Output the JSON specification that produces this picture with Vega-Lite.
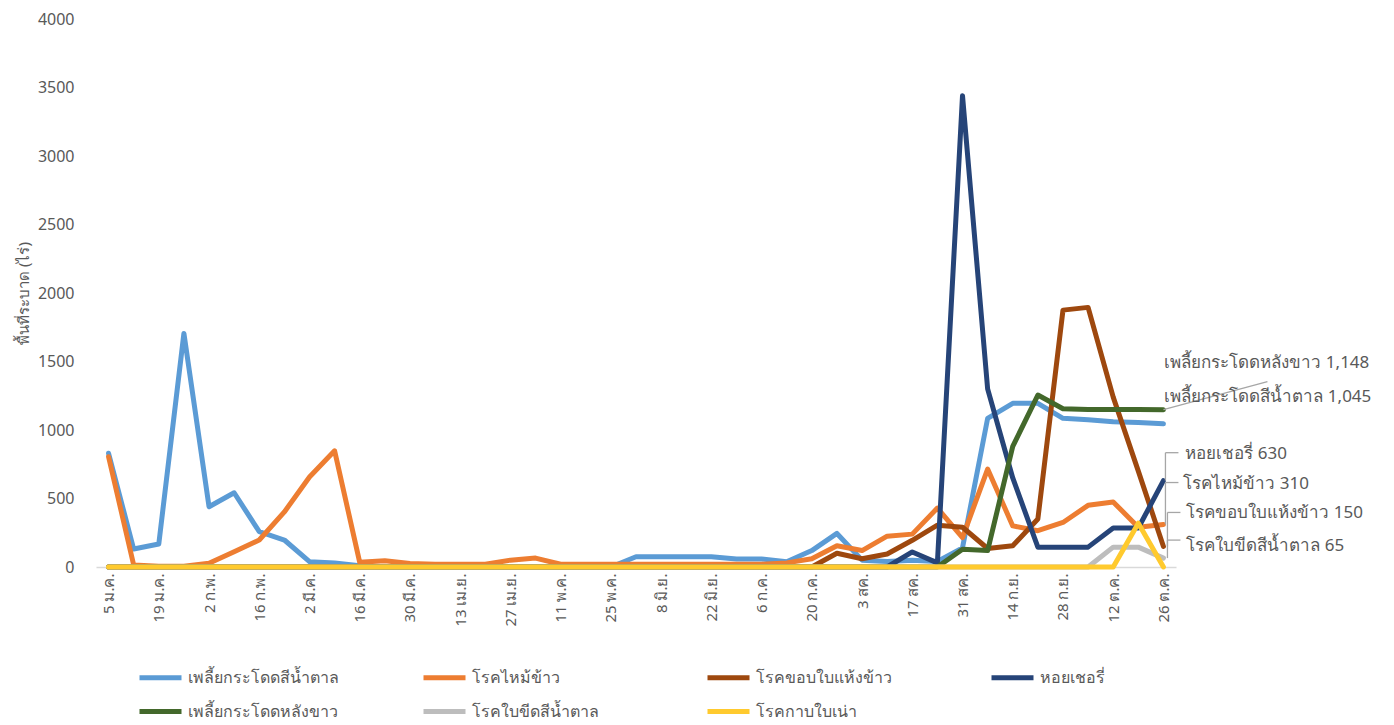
{
  "$schema": "https://vega.github.io/schema/vega-lite/v6.json",
  "width": 1080,
  "height": 548,
  "autosize": "none",
  "padding": {"left": 96, "top": 19, "right": 218, "bottom": 158},
  "background": "white",
  "config": {
    "view": {"stroke": null},
    "font": "Noto Sans",
    "axis": {"labelFont": "Noto Sans", "titleFont": "Noto Sans"},
    "legend": {"labelFont": "Noto Sans"}
  },
  "datasets": {
    "w": [
      {"d":"5 ม.ค.","เพลี้ยกระโดดสีน้ำตาล":830,"โรคไหม้ข้าว":805,"โรคขอบใบแห้งข้าว":0,"หอยเชอรี่":0,"เพลี้ยกระโดดหลังขาว":0,"โรคใบขีดสีน้ำตาล":0,"โรคกาบใบเน่า":0},
      {"d":"12 ม.ค.","เพลี้ยกระโดดสีน้ำตาล":131,"โรคไหม้ข้าว":15,"โรคขอบใบแห้งข้าว":0,"หอยเชอรี่":0,"เพลี้ยกระโดดหลังขาว":0,"โรคใบขีดสีน้ำตาล":0,"โรคกาบใบเน่า":0},
      {"d":"19 ม.ค.","เพลี้ยกระโดดสีน้ำตาล":168,"โรคไหม้ข้าว":5,"โรคขอบใบแห้งข้าว":0,"หอยเชอรี่":0,"เพลี้ยกระโดดหลังขาว":0,"โรคใบขีดสีน้ำตาล":0,"โรคกาบใบเน่า":0},
      {"d":"26 ม.ค.","เพลี้ยกระโดดสีน้ำตาล":1705,"โรคไหม้ข้าว":5,"โรคขอบใบแห้งข้าว":0,"หอยเชอรี่":0,"เพลี้ยกระโดดหลังขาว":0,"โรคใบขีดสีน้ำตาล":0,"โรคกาบใบเน่า":0},
      {"d":"2 ก.พ.","เพลี้ยกระโดดสีน้ำตาล":440,"โรคไหม้ข้าว":27,"โรคขอบใบแห้งข้าว":0,"หอยเชอรี่":0,"เพลี้ยกระโดดหลังขาว":0,"โรคใบขีดสีน้ำตาล":0,"โรคกาบใบเน่า":0},
      {"d":"9 ก.พ.","เพลี้ยกระโดดสีน้ำตาล":542,"โรคไหม้ข้าว":112,"โรคขอบใบแห้งข้าว":0,"หอยเชอรี่":0,"เพลี้ยกระโดดหลังขาว":0,"โรคใบขีดสีน้ำตาล":0,"โรคกาบใบเน่า":0},
      {"d":"16 ก.พ.","เพลี้ยกระโดดสีน้ำตาล":258,"โรคไหม้ข้าว":197,"โรคขอบใบแห้งข้าว":0,"หอยเชอรี่":0,"เพลี้ยกระโดดหลังขาว":0,"โรคใบขีดสีน้ำตาล":0,"โรคกาบใบเน่า":0},
      {"d":"23 ก.พ.","เพลี้ยกระโดดสีน้ำตาล":197,"โรคไหม้ข้าว":402,"โรคขอบใบแห้งข้าว":0,"หอยเชอรี่":0,"เพลี้ยกระโดดหลังขาว":0,"โรคใบขีดสีน้ำตาล":0,"โรคกาบใบเน่า":0},
      {"d":"2 มี.ค.","เพลี้ยกระโดดสีน้ำตาล":39,"โรคไหม้ข้าว":657,"โรคขอบใบแห้งข้าว":0,"หอยเชอรี่":0,"เพลี้ยกระโดดหลังขาว":0,"โรคใบขีดสีน้ำตาล":0,"โรคกาบใบเน่า":0},
      {"d":"9 มี.ค.","เพลี้ยกระโดดสีน้ำตาล":30,"โรคไหม้ข้าว":848,"โรคขอบใบแห้งข้าว":0,"หอยเชอรี่":0,"เพลี้ยกระโดดหลังขาว":0,"โรคใบขีดสีน้ำตาล":0,"โรคกาบใบเน่า":0},
      {"d":"16 มี.ค.","เพลี้ยกระโดดสีน้ำตาล":10,"โรคไหม้ข้าว":34,"โรคขอบใบแห้งข้าว":0,"หอยเชอรี่":0,"เพลี้ยกระโดดหลังขาว":0,"โรคใบขีดสีน้ำตาล":0,"โรคกาบใบเน่า":0},
      {"d":"23 มี.ค.","เพลี้ยกระโดดสีน้ำตาล":0,"โรคไหม้ข้าว":46,"โรคขอบใบแห้งข้าว":0,"หอยเชอรี่":0,"เพลี้ยกระโดดหลังขาว":0,"โรคใบขีดสีน้ำตาล":0,"โรคกาบใบเน่า":0},
      {"d":"30 มี.ค.","เพลี้ยกระโดดสีน้ำตาล":0,"โรคไหม้ข้าว":25,"โรคขอบใบแห้งข้าว":0,"หอยเชอรี่":0,"เพลี้ยกระโดดหลังขาว":0,"โรคใบขีดสีน้ำตาล":0,"โรคกาบใบเน่า":0},
      {"d":"6 เม.ย.","เพลี้ยกระโดดสีน้ำตาล":0,"โรคไหม้ข้าว":20,"โรคขอบใบแห้งข้าว":0,"หอยเชอรี่":0,"เพลี้ยกระโดดหลังขาว":0,"โรคใบขีดสีน้ำตาล":0,"โรคกาบใบเน่า":0},
      {"d":"13 เม.ย.","เพลี้ยกระโดดสีน้ำตาล":0,"โรคไหม้ข้าว":20,"โรคขอบใบแห้งข้าว":0,"หอยเชอรี่":0,"เพลี้ยกระโดดหลังขาว":0,"โรคใบขีดสีน้ำตาล":0,"โรคกาบใบเน่า":0},
      {"d":"20 เม.ย.","เพลี้ยกระโดดสีน้ำตาล":0,"โรคไหม้ข้าว":20,"โรคขอบใบแห้งข้าว":0,"หอยเชอรี่":0,"เพลี้ยกระโดดหลังขาว":0,"โรคใบขีดสีน้ำตาล":0,"โรคกาบใบเน่า":0},
      {"d":"27 เม.ย.","เพลี้ยกระโดดสีน้ำตาล":0,"โรคไหม้ข้าว":50,"โรคขอบใบแห้งข้าว":0,"หอยเชอรี่":0,"เพลี้ยกระโดดหลังขาว":0,"โรคใบขีดสีน้ำตาล":0,"โรคกาบใบเน่า":0},
      {"d":"4 พ.ค.","เพลี้ยกระโดดสีน้ำตาล":0,"โรคไหม้ข้าว":65,"โรคขอบใบแห้งข้าว":0,"หอยเชอรี่":0,"เพลี้ยกระโดดหลังขาว":0,"โรคใบขีดสีน้ำตาล":0,"โรคกาบใบเน่า":0},
      {"d":"11 พ.ค.","เพลี้ยกระโดดสีน้ำตาล":0,"โรคไหม้ข้าว":20,"โรคขอบใบแห้งข้าว":0,"หอยเชอรี่":0,"เพลี้ยกระโดดหลังขาว":0,"โรคใบขีดสีน้ำตาล":0,"โรคกาบใบเน่า":0},
      {"d":"18 พ.ค.","เพลี้ยกระโดดสีน้ำตาล":0,"โรคไหม้ข้าว":20,"โรคขอบใบแห้งข้าว":0,"หอยเชอรี่":0,"เพลี้ยกระโดดหลังขาว":0,"โรคใบขีดสีน้ำตาล":0,"โรคกาบใบเน่า":0},
      {"d":"25 พ.ค.","เพลี้ยกระโดดสีน้ำตาล":0,"โรคไหม้ข้าว":20,"โรคขอบใบแห้งข้าว":0,"หอยเชอรี่":0,"เพลี้ยกระโดดหลังขาว":0,"โรคใบขีดสีน้ำตาล":0,"โรคกาบใบเน่า":0},
      {"d":"1 มิ.ย.","เพลี้ยกระโดดสีน้ำตาล":75,"โรคไหม้ข้าว":20,"โรคขอบใบแห้งข้าว":0,"หอยเชอรี่":0,"เพลี้ยกระโดดหลังขาว":0,"โรคใบขีดสีน้ำตาล":0,"โรคกาบใบเน่า":0},
      {"d":"8 มิ.ย.","เพลี้ยกระโดดสีน้ำตาล":75,"โรคไหม้ข้าว":20,"โรคขอบใบแห้งข้าว":0,"หอยเชอรี่":0,"เพลี้ยกระโดดหลังขาว":0,"โรคใบขีดสีน้ำตาล":0,"โรคกาบใบเน่า":0},
      {"d":"15 มิ.ย.","เพลี้ยกระโดดสีน้ำตาล":75,"โรคไหม้ข้าว":20,"โรคขอบใบแห้งข้าว":0,"หอยเชอรี่":0,"เพลี้ยกระโดดหลังขาว":0,"โรคใบขีดสีน้ำตาล":0,"โรคกาบใบเน่า":0},
      {"d":"22 มิ.ย.","เพลี้ยกระโดดสีน้ำตาล":75,"โรคไหม้ข้าว":20,"โรคขอบใบแห้งข้าว":0,"หอยเชอรี่":0,"เพลี้ยกระโดดหลังขาว":0,"โรคใบขีดสีน้ำตาล":0,"โรคกาบใบเน่า":0},
      {"d":"29 มิ.ย.","เพลี้ยกระโดดสีน้ำตาล":58,"โรคไหม้ข้าว":20,"โรคขอบใบแห้งข้าว":0,"หอยเชอรี่":0,"เพลี้ยกระโดดหลังขาว":0,"โรคใบขีดสีน้ำตาล":0,"โรคกาบใบเน่า":0},
      {"d":"6 ก.ค.","เพลี้ยกระโดดสีน้ำตาล":58,"โรคไหม้ข้าว":20,"โรคขอบใบแห้งข้าว":0,"หอยเชอรี่":0,"เพลี้ยกระโดดหลังขาว":0,"โรคใบขีดสีน้ำตาล":0,"โรคกาบใบเน่า":0},
      {"d":"13 ก.ค.","เพลี้ยกระโดดสีน้ำตาล":38,"โรคไหม้ข้าว":30,"โรคขอบใบแห้งข้าว":0,"หอยเชอรี่":0,"เพลี้ยกระโดดหลังขาว":0,"โรคใบขีดสีน้ำตาล":0,"โรคกาบใบเน่า":0},
      {"d":"20 ก.ค.","เพลี้ยกระโดดสีน้ำตาล":120,"โรคไหม้ข้าว":60,"โรคขอบใบแห้งข้าว":0,"หอยเชอรี่":0,"เพลี้ยกระโดดหลังขาว":0,"โรคใบขีดสีน้ำตาล":0,"โรคกาบใบเน่า":0},
      {"d":"27 ก.ค.","เพลี้ยกระโดดสีน้ำตาล":245,"โรคไหม้ข้าว":155,"โรคขอบใบแห้งข้าว":100,"หอยเชอรี่":0,"เพลี้ยกระโดดหลังขาว":0,"โรคใบขีดสีน้ำตาล":0,"โรคกาบใบเน่า":0},
      {"d":"3 สค.","เพลี้ยกระโดดสีน้ำตาล":50,"โรคไหม้ข้าว":120,"โรคขอบใบแห้งข้าว":60,"หอยเชอรี่":0,"เพลี้ยกระโดดหลังขาว":0,"โรคใบขีดสีน้ำตาล":0,"โรคกาบใบเน่า":0},
      {"d":"10 สค.","เพลี้ยกระโดดสีน้ำตาล":40,"โรคไหม้ข้าว":225,"โรคขอบใบแห้งข้าว":95,"หอยเชอรี่":0,"เพลี้ยกระโดดหลังขาว":0,"โรคใบขีดสีน้ำตาล":0,"โรคกาบใบเน่า":0},
      {"d":"17 สค.","เพลี้ยกระโดดสีน้ำตาล":50,"โรคไหม้ข้าว":240,"โรคขอบใบแห้งข้าว":195,"หอยเชอรี่":110,"เพลี้ยกระโดดหลังขาว":0,"โรคใบขีดสีน้ำตาล":0,"โรคกาบใบเน่า":0},
      {"d":"24 สค.","เพลี้ยกระโดดสีน้ำตาล":40,"โรคไหม้ข้าว":430,"โรคขอบใบแห้งข้าว":305,"หอยเชอรี่":30,"เพลี้ยกระโดดหลังขาว":0,"โรคใบขีดสีน้ำตาล":0,"โรคกาบใบเน่า":0},
      {"d":"31 สค.","เพลี้ยกระโดดสีน้ำตาล":140,"โรคไหม้ข้าว":215,"โรคขอบใบแห้งข้าว":290,"หอยเชอรี่":3440,"เพลี้ยกระโดดหลังขาว":130,"โรคใบขีดสีน้ำตาล":0,"โรคกาบใบเน่า":0},
      {"d":"7 ก.ย.","เพลี้ยกระโดดสีน้ำตาล":1085,"โรคไหม้ข้าว":715,"โรคขอบใบแห้งข้าว":135,"หอยเชอรี่":1300,"เพลี้ยกระโดดหลังขาว":120,"โรคใบขีดสีน้ำตาล":0,"โรคกาบใบเน่า":0},
      {"d":"14 ก.ย.","เพลี้ยกระโดดสีน้ำตาล":1195,"โรคไหม้ข้าว":300,"โรคขอบใบแห้งข้าว":155,"หอยเชอรี่":650,"เพลี้ยกระโดดหลังขาว":880,"โรคใบขีดสีน้ำตาล":0,"โรคกาบใบเน่า":0},
      {"d":"21 ก.ย.","เพลี้ยกระโดดสีน้ำตาล":1195,"โรคไหม้ข้าว":265,"โรคขอบใบแห้งข้าว":350,"หอยเชอรี่":145,"เพลี้ยกระโดดหลังขาว":1255,"โรคใบขีดสีน้ำตาล":0,"โรคกาบใบเน่า":0},
      {"d":"28 ก.ย.","เพลี้ยกระโดดสีน้ำตาล":1085,"โรคไหม้ข้าว":325,"โรคขอบใบแห้งข้าว":1875,"หอยเชอรี่":145,"เพลี้ยกระโดดหลังขาว":1155,"โรคใบขีดสีน้ำตาล":0,"โรคกาบใบเน่า":0},
      {"d":"5 ต.ค.","เพลี้ยกระโดดสีน้ำตาล":1075,"โรคไหม้ข้าว":450,"โรคขอบใบแห้งข้าว":1895,"หอยเชอรี่":145,"เพลี้ยกระโดดหลังขาว":1150,"โรคใบขีดสีน้ำตาล":0,"โรคกาบใบเน่า":0},
      {"d":"12 ต.ค.","เพลี้ยกระโดดสีน้ำตาล":1060,"โรคไหม้ข้าว":475,"โรคขอบใบแห้งข้าว":1240,"หอยเชอรี่":285,"เพลี้ยกระโดดหลังขาว":1150,"โรคใบขีดสีน้ำตาล":145,"โรคกาบใบเน่า":0},
      {"d":"19 ต.ค.","เพลี้ยกระโดดสีน้ำตาล":1055,"โรคไหม้ข้าว":290,"โรคขอบใบแห้งข้าว":700,"หอยเชอรี่":285,"เพลี้ยกระโดดหลังขาว":1150,"โรคใบขีดสีน้ำตาล":145,"โรคกาบใบเน่า":320},
      {"d":"26 ต.ค.","เพลี้ยกระโดดสีน้ำตาล":1045,"โรคไหม้ข้าว":310,"โรคขอบใบแห้งข้าว":150,"หอยเชอรี่":630,"เพลี้ยกระโดดหลังขาว":1148,"โรคใบขีดสีน้ำตาล":65,"โรคกาบใบเน่า":0}
    ],
    "labels": [
      {"d":"26 ต.ค.","s":"เพลี้ยกระโดดหลังขาว","v":1148,"t":"เพลี้ยกระโดดหลังขาว 1,148"},
      {"d":"26 ต.ค.","s":"เพลี้ยกระโดดสีน้ำตาล","v":1045,"t":"เพลี้ยกระโดดสีน้ำตาล 1,045"},
      {"d":"26 ต.ค.","s":"หอยเชอรี่","v":630,"t":"หอยเชอรี่ 630"},
      {"d":"26 ต.ค.","s":"โรคไหม้ข้าว","v":310,"t":"โรคไหม้ข้าว 310"},
      {"d":"26 ต.ค.","s":"โรคขอบใบแห้งข้าว","v":150,"t":"โรคขอบใบแห้งข้าว 150"},
      {"d":"26 ต.ค.","s":"โรคใบขีดสีน้ำตาล","v":65,"t":"โรคใบขีดสีน้ำตาล 65"}
    ]
  },
  "encoding": {
    "x": {
      "field": "d", "type": "ordinal",
      "scale": {"type": "point", "padding": 0.5,
        "domain": ["5 ม.ค.","12 ม.ค.","19 ม.ค.","26 ม.ค.","2 ก.พ.","9 ก.พ.","16 ก.พ.","23 ก.พ.","2 มี.ค.","9 มี.ค.","16 มี.ค.","23 มี.ค.","30 มี.ค.","6 เม.ย.","13 เม.ย.","20 เม.ย.","27 เม.ย.","4 พ.ค.","11 พ.ค.","18 พ.ค.","25 พ.ค.","1 มิ.ย.","8 มิ.ย.","15 มิ.ย.","22 มิ.ย.","29 มิ.ย.","6 ก.ค.","13 ก.ค.","20 ก.ค.","27 ก.ค.","3 สค.","10 สค.","17 สค.","24 สค.","31 สค.","7 ก.ย.","14 ก.ย.","21 ก.ย.","28 ก.ย.","5 ต.ค.","12 ต.ค.","19 ต.ค.","26 ต.ค."]},
      "axis": {
        "values": ["5 ม.ค.","19 ม.ค.","2 ก.พ.","16 ก.พ.","2 มี.ค.","16 มี.ค.","30 มี.ค.","13 เม.ย.","27 เม.ย.","11 พ.ค.","25 พ.ค.","8 มิ.ย.","22 มิ.ย.","6 ก.ค.","20 ก.ค.","3 สค.","17 สค.","31 สค.","14 ก.ย.","28 ก.ย.","12 ต.ค.","26 ต.ค."],
        "title": null, "labelAngle": -90, "labelFontSize": 15, "labelColor": "#595959",
        "ticks": false, "grid": false, "domainColor": "#d9d9d9", "domainWidth": 1.5, "labelPadding": 6
      }
    },
    "y": {
      "field": "v", "type": "quantitative",
      "scale": {"domain": [0, 4000], "nice": false},
      "axis": {
        "values": [0,500,1000,1500,2000,2500,3000,3500,4000], "format": "d",
        "title": "พื้นที่ระบาด (ไร่)", "titleColor": "#595959", "titleFontSize": 15, "titleFontWeight": "normal", "titlePadding": 6,
        "labelColor": "#595959", "labelFontSize": 16, "labelPadding": 22,
        "grid": false, "domain": false, "ticks": false
      }
    }
  },
  "layer": [
    {
      "data": {"name": "w"},
      "transform": [{"fold": ["เพลี้ยกระโดดสีน้ำตาล","โรคไหม้ข้าว","โรคขอบใบแห้งข้าว","หอยเชอรี่","เพลี้ยกระโดดหลังขาว","โรคใบขีดสีน้ำตาล","โรคกาบใบเน่า"], "as": ["s","v"]}],
      "mark": {"type": "line", "strokeWidth": 5, "strokeJoin": "round", "strokeCap": "round"},
      "encoding": {
        "color": {
          "field": "s", "type": "nominal",
          "scale": {
            "domain": ["เพลี้ยกระโดดสีน้ำตาล","เพลี้ยกระโดดหลังขาว","โรคไหม้ข้าว","โรคใบขีดสีน้ำตาล","โรคขอบใบแห้งข้าว","โรคกาบใบเน่า","หอยเชอรี่"],
            "range": ["#5B9BD5","#43682B","#ED7D31","#BDBDBD","#9E480E","#FFCA2E","#264478"]
          },
          "legend": {
            "orient": "none", "legendX": 41, "legendY": 635, "columns": 4, "title": null,
            "symbolType": "stroke", "symbolSize": 1764, "symbolStrokeWidth": 5,
            "labelFontSize": 16, "labelColor": "#595959", "labelLimit": 300, "labelOffset": 4,
            "columnPadding": 74, "rowPadding": 0, "gridAlign": "all"
          }
        }
      }
    },
    {
      "data": {"name": "labels"},
      "transform": [{"filter": "datum.s === 'เพลี้ยกระโดดหลังขาว'"}],
      "layer": [
        {"mark": {"type": "rule", "color": "#a6a6a6", "strokeWidth": 1.3, "x2Offset": 104, "y2Offset": -28},
         "encoding": {"x2": {"field": "d"}, "y2": {"field": "v"}}},
        {"mark": {"type": "text", "align": "left", "baseline": "middle", "dx": 1, "dy": -47, "fontSize": 17, "color": "#595959"},
         "encoding": {"text": {"field": "t"}}}
      ]
    },
    {
      "data": {"name": "labels"},
      "transform": [{"filter": "datum.s === 'เพลี้ยกระโดดสีน้ำตาล'"}],
      "mark": {"type": "text", "align": "left", "baseline": "middle", "dx": 1, "dy": -27, "fontSize": 17, "color": "#595959"},
      "encoding": {"text": {"field": "t"}}
    },
    {
      "data": {"name": "labels"},
      "transform": [{"filter": "datum.s === 'หอยเชอรี่'"}],
      "layer": [
        {"mark": {"type": "rule", "color": "#a6a6a6", "strokeWidth": 1.3, "xOffset": 2, "y2Offset": -28},
         "encoding": {"y2": {"field": "v"}}},
        {"mark": {"type": "rule", "color": "#a6a6a6", "strokeWidth": 1.3, "xOffset": 2, "x2Offset": 15, "yOffset": -28},
         "encoding": {"x2": {"field": "d"}}},
        {"mark": {"type": "text", "align": "left", "baseline": "middle", "dx": 22, "dy": -27, "fontSize": 17, "color": "#595959"},
         "encoding": {"text": {"field": "t"}}}
      ]
    },
    {
      "data": {"name": "labels"},
      "transform": [{"filter": "datum.s === 'โรคไหม้ข้าว'"}],
      "layer": [
        {"mark": {"type": "rule", "color": "#a6a6a6", "strokeWidth": 1.3, "xOffset": 2, "y2Offset": -42},
         "encoding": {"y2": {"field": "v"}}},
        {"mark": {"type": "rule", "color": "#a6a6a6", "strokeWidth": 1.3, "xOffset": 2, "x2Offset": 15, "yOffset": -42},
         "encoding": {"x2": {"field": "d"}}},
        {"mark": {"type": "text", "align": "left", "baseline": "middle", "dx": 20, "dy": -41, "fontSize": 17, "color": "#595959"},
         "encoding": {"text": {"field": "t"}}}
      ]
    },
    {
      "data": {"name": "labels"},
      "transform": [{"filter": "datum.s === 'โรคขอบใบแห้งข้าว'"}],
      "layer": [
        {"mark": {"type": "rule", "color": "#a6a6a6", "strokeWidth": 1.3, "xOffset": 4, "y2Offset": -34},
         "encoding": {"y2": {"field": "v"}}},
        {"mark": {"type": "rule", "color": "#a6a6a6", "strokeWidth": 1.3, "xOffset": 4, "x2Offset": 17, "yOffset": -34},
         "encoding": {"x2": {"field": "d"}}},
        {"mark": {"type": "text", "align": "left", "baseline": "middle", "dx": 23, "dy": -33, "fontSize": 17, "color": "#595959"},
         "encoding": {"text": {"field": "t"}}}
      ]
    },
    {
      "data": {"name": "labels"},
      "transform": [{"filter": "datum.s === 'โรคใบขีดสีน้ำตาล'"}],
      "layer": [
        {"mark": {"type": "rule", "color": "#a6a6a6", "strokeWidth": 1.3, "xOffset": 4, "y2Offset": -18},
         "encoding": {"y2": {"field": "v"}}},
        {"mark": {"type": "rule", "color": "#a6a6a6", "strokeWidth": 1.3, "xOffset": 4, "x2Offset": 17, "yOffset": -18},
         "encoding": {"x2": {"field": "d"}}},
        {"mark": {"type": "text", "align": "left", "baseline": "middle", "dx": 23, "dy": -12, "fontSize": 17, "color": "#595959"},
         "encoding": {"text": {"field": "t"}}}
      ]
    }
  ]
}
